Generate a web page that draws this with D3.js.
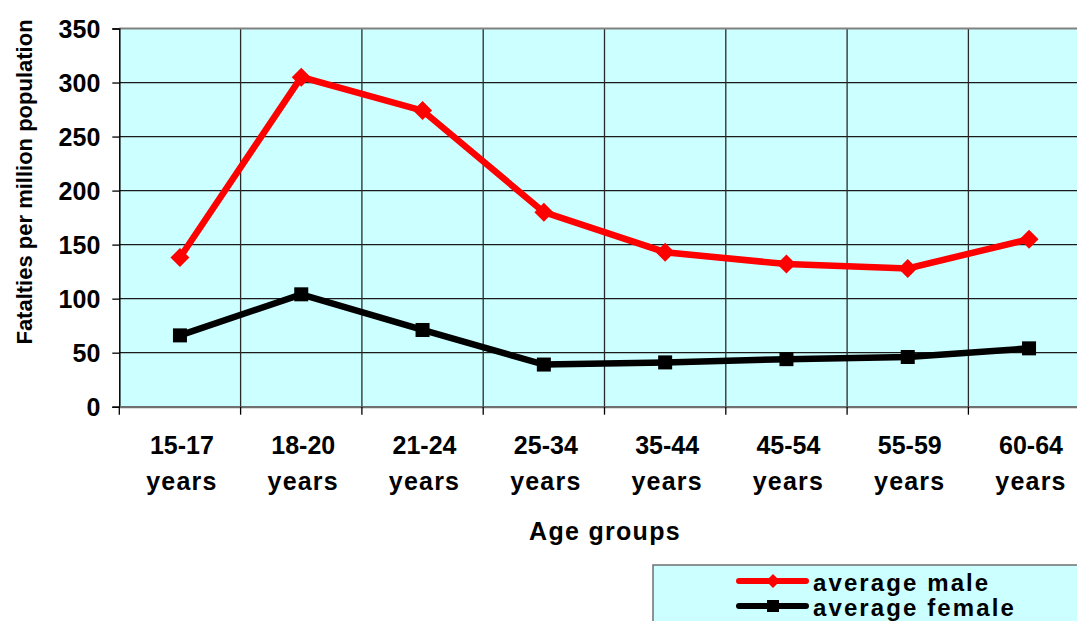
<!DOCTYPE html>
<html>
<head>
<meta charset="utf-8">
<script src="https://cdn.jsdelivr.net/npm/d3@7"></script>
<style>
  html, body { margin: 0; padding: 0; background: #fff; overflow: hidden; }
  svg { display: block; font-family: "Liberation Sans", Arial, sans-serif; font-weight: bold; }
</style>
</head>
<body>
<svg id="chart" width="1077" height="621"></svg>
<script>
const categories = ["15-17 years", "18-20 years", "21-24 years", "25-34 years", "35-44 years", "45-54 years", "55-59 years", "60-64 years"];
const maleValues = [138, 305, 274, 180, 143, 132, 128, 155];
const femaleValues = [66, 104, 71, 39, 41, 44, 46, 54];
const yTicks = [0, 50, 100, 150, 200, 250, 300, 350];
const seriesNames = ["average male", "average female"];

(function () {
const svg = d3.select("#chart");
const pLeft = 119.3, pTop = 28.5, pBottom = 406.7, bandW = 121.3;
const pRight = pLeft + bandW * categories.length;

const x = d3.scaleBand().domain(categories).range([pLeft, pRight]).paddingInner(0).paddingOuter(0);
const y = d3.scaleLinear().domain([0, 350]).range([pBottom, pTop]);

// plot background
svg.append("rect").attr("x", pLeft).attr("y", pTop).attr("width", pRight - pLeft).attr("height", pBottom - pTop)
  .attr("fill", "#CCFFFF");

// horizontal gridlines
svg.append("g").selectAll("line").data(yTicks.filter(d => d > 0 && d < 350)).join("line")
  .attr("x1", pLeft).attr("x2", pRight).attr("y1", d => y(d)).attr("y2", d => y(d))
  .attr("stroke", "#1a1a1a").attr("stroke-width", 1.3);

// vertical gridlines
svg.append("g").selectAll("line").data(categories.slice(1)).join("line")
  .attr("x1", d => x(d)).attr("x2", d => x(d)).attr("y1", pTop).attr("y2", pBottom)
  .attr("stroke", "#2a2a2a").attr("stroke-width", 1.3);

// top border
svg.append("line").attr("x1", pLeft).attr("x2", pRight).attr("y1", pTop).attr("y2", pTop)
  .attr("stroke", "#808080").attr("stroke-width", 2);

// y axis
const yAxis = d3.axisLeft(y).tickValues(yTicks).tickSize(7).tickPadding(12);
const gy = svg.append("g").attr("transform", `translate(${pLeft},0)`).call(yAxis);
gy.select(".domain").attr("stroke", "#000").attr("stroke-width", 1.5);
gy.selectAll(".tick line").attr("stroke", "#000").attr("stroke-width", 1.3);
gy.selectAll(".tick text").attr("font-size", 25).attr("font-weight", "bold")
  .attr("font-family", "'Liberation Sans', Arial, sans-serif").attr("fill", "#000").attr("dy", "0.36em");

// x axis
const xAxis = d3.axisBottom(x).tickSize(0).tickFormat("");
const gx = svg.append("g").attr("transform", `translate(0,${pBottom})`).call(xAxis);
gx.select(".domain").attr("stroke", "#707070").attr("stroke-width", 2.2);
// x tick marks at band boundaries
svg.append("g").selectAll("line").data(categories).join("line")
  .attr("x1", d => x(d)).attr("x2", d => x(d)).attr("y1", pBottom).attr("y2", pBottom + 8)
  .attr("stroke", "#000").attr("stroke-width", 1.3);

// x labels (two lines)
const xl = svg.append("g").selectAll("text").data(categories).join("text")
  .attr("x", d => x(d) + bandW / 2 + 2).attr("text-anchor", "middle")
  .attr("font-size", 25).attr("fill", "#000");
xl.append("tspan").attr("x", d => x(d) + bandW / 2 + 2).attr("y", 454).text(d => d.split(" ")[0]);
xl.append("tspan").attr("x", d => x(d) + bandW / 2 + 2).attr("y", 490).attr("letter-spacing", 1.2).text(d => d.split(" ")[1]);

// axis titles
svg.append("text").attr("x", 605).attr("y", 540).attr("text-anchor", "middle")
  .attr("font-size", 25).attr("letter-spacing", 1.3).attr("fill", "#000").text("Age groups");
svg.append("text").attr("transform", "translate(32,182) rotate(-90)").attr("text-anchor", "middle")
  .attr("font-size", 22).attr("fill", "#000").text("Fatalties per million population");

// lines
const line = d3.line().x((d, i) => x(categories[i]) + bandW / 2).y(d => y(d));
const plot = svg.append("g");
plot.append("path").datum(femaleValues).attr("d", line).attr("fill", "none")
  .attr("stroke", "#000").attr("stroke-width", 6.5).attr("stroke-linejoin", "miter");
plot.append("path").datum(maleValues).attr("d", line).attr("fill", "none")
  .attr("stroke", "#FF0000").attr("stroke-width", 6.5).attr("stroke-linejoin", "miter");

// markers
const sq = 14, dm = 9.5;
plot.append("g").selectAll("rect").data(femaleValues).join("rect")
  .attr("x", (d, i) => x(categories[i]) + bandW / 2 - sq / 2).attr("y", d => y(d) - sq / 2)
  .attr("width", sq).attr("height", sq).attr("fill", "#000");
plot.append("g").selectAll("path").data(maleValues).join("path")
  .attr("transform", (d, i) => `translate(${x(categories[i]) + bandW / 2},${y(d)})`)
  .attr("d", `M0,${-dm}L${dm},0L0,${dm}L${-dm},0Z`).attr("fill", "#FF0000");

// legend
const lg = svg.append("g");
lg.append("rect").attr("x", 653).attr("y", 565).attr("width", 440).attr("height", 70)
  .attr("fill", "#CCFFFF").attr("stroke", "#707070").attr("stroke-width", 1.5);
const legendItems = [
  { name: seriesNames[0], color: "#FF0000", y: 581, shape: "diamond" },
  { name: seriesNames[1], color: "#000", y: 606, shape: "square" }
];
legendItems.forEach(it => {
  lg.append("line").attr("x1", 739).attr("x2", 806).attr("y1", it.y).attr("y2", it.y)
    .attr("stroke", it.color).attr("stroke-width", 6).attr("stroke-linecap", "round");
  if (it.shape === "diamond") {
    lg.append("path").attr("transform", `translate(773,${it.y})`)
      .attr("d", `M0,-7L7,0L0,7L-7,0Z`).attr("fill", it.color);
  } else {
    lg.append("rect").attr("x", 767).attr("y", it.y - 6).attr("width", 12).attr("height", 12).attr("fill", it.color);
  }
  lg.append("text").attr("x", 813).attr("y", it.y + 10).attr("font-size", 24).attr("letter-spacing", 2.1)
    .attr("fill", "#000").text(it.name);
});
})();
</script>
</body>
</html>
